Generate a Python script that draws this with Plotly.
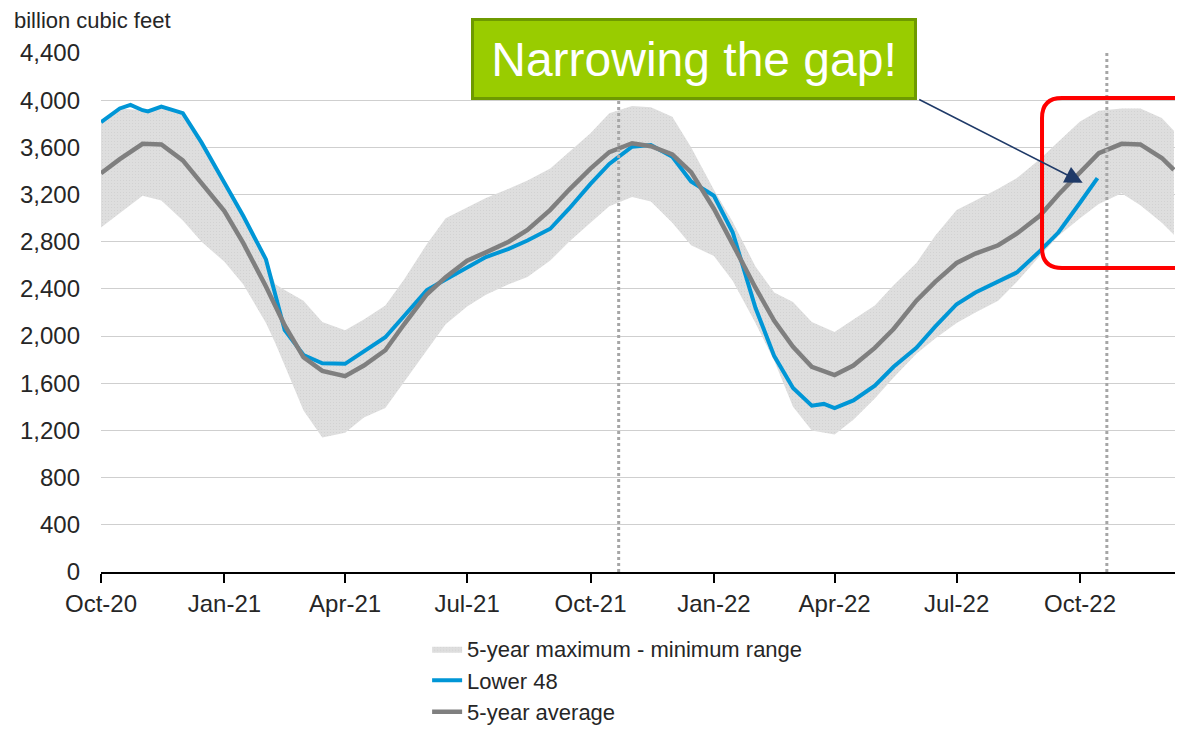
import plotly.graph_objects as go

# ---------------- data ----------------
avg_dates = [
    "2020-10-01", "2020-10-15", "2020-11-01", "2020-11-15", "2020-12-01", "2020-12-15",
    "2021-01-01", "2021-01-15", "2021-02-01", "2021-02-15", "2021-03-01", "2021-03-15",
    "2021-04-01", "2021-04-15", "2021-05-01", "2021-05-15", "2021-06-01", "2021-06-15",
    "2021-07-01", "2021-07-15", "2021-08-01", "2021-08-15", "2021-09-01", "2021-09-15",
    "2021-10-01", "2021-10-15", "2021-11-01", "2021-11-15", "2021-12-01", "2021-12-15",
    "2022-01-01", "2022-01-15", "2022-02-01", "2022-02-15", "2022-03-01", "2022-03-15",
    "2022-04-01", "2022-04-15", "2022-05-01", "2022-05-15", "2022-06-01", "2022-06-15",
    "2022-07-01", "2022-07-15", "2022-08-01", "2022-08-15", "2022-09-01", "2022-09-15",
    "2022-10-01", "2022-10-15", "2022-11-01", "2022-11-15", "2022-12-01", "2022-12-10",
]
avg_values = [
    3380, 3500, 3630, 3625, 3490, 3300,
    3060, 2790, 2420, 2090, 1820, 1705,
    1660, 1750, 1880, 2100, 2355, 2500,
    2640, 2710, 2800, 2900, 3070, 3240,
    3420, 3560, 3635, 3610, 3540, 3390,
    3080, 2780, 2410, 2130, 1910, 1740,
    1670, 1750, 1900, 2060, 2300, 2460,
    2620, 2700, 2770, 2870, 3020, 3200,
    3380, 3550, 3630, 3625, 3510, 3410,
]

l48_dates = [
    "2020-10-01", "2020-10-15", "2020-10-23", "2020-11-01", "2020-11-05", "2020-11-15",
    "2020-12-01", "2020-12-15", "2021-01-01", "2021-01-15", "2021-02-01", "2021-02-15",
    "2021-03-01", "2021-03-15", "2021-04-01", "2021-04-15", "2021-05-01", "2021-05-15",
    "2021-06-01", "2021-06-15", "2021-07-01", "2021-07-15", "2021-08-01", "2021-08-15",
    "2021-09-01", "2021-09-15", "2021-10-01", "2021-10-15", "2021-11-01", "2021-11-15",
    "2021-12-01", "2021-12-15", "2022-01-01", "2022-01-15", "2022-02-01", "2022-02-15",
    "2022-03-01", "2022-03-15", "2022-03-24", "2022-04-01", "2022-04-15", "2022-05-01",
    "2022-05-15", "2022-06-01", "2022-06-15", "2022-07-01", "2022-07-15", "2022-08-01",
    "2022-08-15", "2022-09-01", "2022-09-15", "2022-10-01", "2022-10-14",
]
l48_values = [
    3814, 3930, 3960, 3915, 3905, 3945,
    3890, 3640, 3300, 3020, 2650, 2050,
    1840, 1770, 1765, 1870, 1990, 2170,
    2390, 2480, 2580, 2670, 2740, 2810,
    2910, 3080, 3290, 3460, 3605, 3620,
    3520, 3310, 3190, 2880, 2240, 1830,
    1560, 1410, 1425, 1390, 1455, 1580,
    1740, 1900, 2080, 2270, 2370, 2460,
    2540, 2720, 2880, 3130, 3339,
]

band_dates = [
    "2020-10-01", "2020-10-15", "2020-11-01", "2020-11-15", "2020-12-01", "2020-12-15",
    "2021-01-01", "2021-01-15", "2021-02-01", "2021-02-08", "2021-02-15", "2021-03-01",
    "2021-03-15", "2021-04-01", "2021-04-15", "2021-05-01", "2021-05-15", "2021-06-01",
    "2021-06-15", "2021-07-01", "2021-07-15", "2021-08-01", "2021-08-15", "2021-09-01",
    "2021-09-15", "2021-10-01", "2021-10-15", "2021-11-01", "2021-11-15", "2021-12-01",
    "2021-12-15", "2022-01-01", "2022-01-15", "2022-02-01", "2022-02-15", "2022-03-01",
    "2022-03-15", "2022-04-01", "2022-04-15", "2022-05-01", "2022-05-15", "2022-06-01",
    "2022-06-15", "2022-07-01", "2022-07-15", "2022-08-01", "2022-08-15", "2022-09-01",
    "2022-09-15", "2022-10-01", "2022-10-15", "2022-11-01", "2022-11-15", "2022-12-01",
    "2022-12-10",
]
band_max = [
    3814, 3930, 3915, 3945, 3890, 3640,
    3300, 3020, 2650, 2440, 2390, 2300,
    2120, 2050, 2140, 2260, 2480, 2780,
    3000, 3090, 3170, 3250, 3320, 3420,
    3560, 3720, 3890, 3950, 3940, 3860,
    3600, 3240, 2970, 2590, 2370, 2290,
    2120, 2035, 2140, 2260, 2430, 2620,
    2850, 3070, 3150, 3250, 3340, 3500,
    3650, 3820, 3910, 3930, 3930, 3850,
    3740,
]
band_min = [
    2920, 3040, 3190, 3150, 2980, 2800,
    2630, 2440, 2110, 1940, 1750, 1370,
    1140, 1180, 1310, 1390, 1610, 1880,
    2100, 2250, 2350, 2440, 2500, 2640,
    2800, 2960, 3100, 3180, 3140, 2960,
    2770, 2680, 2470, 2110, 1790, 1400,
    1200, 1165, 1290, 1470, 1650, 1850,
    1980, 2110, 2200, 2300, 2460, 2680,
    2850, 3000, 3120, 3210, 3110, 2960,
    2860,
]

ref_line_dates = ["2021-10-22", "2022-10-21"]
x_range = ["2020-10-01", "2022-12-16 19:00"]
y_ticks = [0, 400, 800, 1200, 1600, 2000, 2400, 2800, 3200, 3600, 4000, 4400]

# ---------------- figure ----------------
FONT = "Liberation Sans, Arial, sans-serif"
TXT = "#262626"

fig = go.Figure()

fig.add_trace(go.Scatter(
    x=band_dates + band_dates[::-1],
    y=band_max + band_min[::-1],
    fill="toself",
    mode="lines",
    line=dict(width=0, color="rgba(0,0,0,0)"),
    fillcolor="#dcdcdc",
    fillpattern=dict(shape=".", bgcolor="#dedede", fgcolor="#c2c2c2",
                     size=3, solidity=0.12),
    name="5-year maximum - minimum range",
    legendgroup="a",
    hoverinfo="skip",
))
fig.add_trace(go.Scatter(
    x=l48_dates, y=l48_values, mode="lines",
    line=dict(color="#0096D6", width=4),
    name="Lower 48", legendgroup="b",
))
fig.add_trace(go.Scatter(
    x=avg_dates, y=avg_values, mode="lines",
    line=dict(color="#7F7F7F", width=4.5),
    name="5-year average", legendgroup="c",
))

for d in ref_line_dates:
    fig.add_shape(type="line", xref="x", yref="y", x0=d, x1=d, y0=0, y1=4400,
                  line=dict(color="#A6A6A6", width=3, dash="dot"), layer="above")

# red rounded rectangle (paper coords)
x0, x1, yt, yb = 0.8697, 1.02, 0.9133, 0.5857
rx, ry = 0.0185, 0.0385
path = (f"M{x0+rx},{yt} L{x1-rx},{yt} Q{x1},{yt} {x1},{yt-ry} L{x1},{yb+ry} "
        f"Q{x1},{yb} {x1-rx},{yb} L{x0+rx},{yb} Q{x0},{yb} {x0},{yb+ry} "
        f"L{x0},{yt-ry} Q{x0},{yt} {x0+rx},{yt} Z")
fig.add_shape(type="path", xref="paper", yref="paper", path=path,
              line=dict(color="#FF0000", width=4), layer="above")

# green call-out box
fig.add_annotation(
    xref="paper", yref="paper", x=0.548, y=0.9884,
    xanchor="center", yanchor="middle",
    text="Narrowing the gap!", showarrow=False,
    font=dict(family=FONT, size=48, color="white"),
    bgcolor="#99CC00", bordercolor="#6E9A00", borderwidth=3, borderpad=2,
    width=436, height=72,
)
# arrow
fig.add_annotation(
    xref="x", yref="y", x="2022-10-03", y=3300,
    axref="pixel", ayref="pixel", ax=-165, ay=-84,
    text="", showarrow=True, arrowhead=2, arrowsize=2.2, arrowwidth=1.6,
    arrowcolor="#1F3A68", standoff=0,
)
# y axis unit label
fig.add_annotation(
    xref="paper", yref="paper", x=-0.0823, y=1.0617,
    xanchor="left", yanchor="middle", showarrow=False,
    text="billion cubic feet", font=dict(family=FONT, size=22, color=TXT),
)

fig.update_layout(
    width=1175, height=722,
    margin=dict(l=93, r=0, t=45, b=158, autoexpand=False),
    paper_bgcolor="white", plot_bgcolor="white",
    font=dict(family=FONT, color=TXT),
    showlegend=True,
    legend=dict(
        orientation="v", x=0.3014, y=-0.1076, xanchor="left", yanchor="top",
        font=dict(family=FONT, size=22, color=TXT),
        bgcolor="rgba(0,0,0,0)", tracegroupgap=0, traceorder="normal",
    ),
    xaxis=dict(
        type="date", range=x_range, automargin=False,
        tick0="2020-10-01", dtick="M3", tickformat="%b-%y",
        ticks="outside", ticklen=9, tickwidth=1.5, tickcolor="#000000",
        showline=True, linecolor="#000000", linewidth=1.5,
        showgrid=False, zeroline=False,
        tickfont=dict(family=FONT, size=24, color=TXT),
    ),
    yaxis=dict(
        range=[0, 4400], tickvals=y_ticks, tickformat=",", automargin=False,
        showgrid=True, gridcolor="#cfcfcf", gridwidth=1,
        zeroline=False, showline=False, ticks="",
        ticklabelstandoff=20,
        tickfont=dict(family=FONT, size=24, color=TXT),
    ),
)

fig.write_html("out.html")
